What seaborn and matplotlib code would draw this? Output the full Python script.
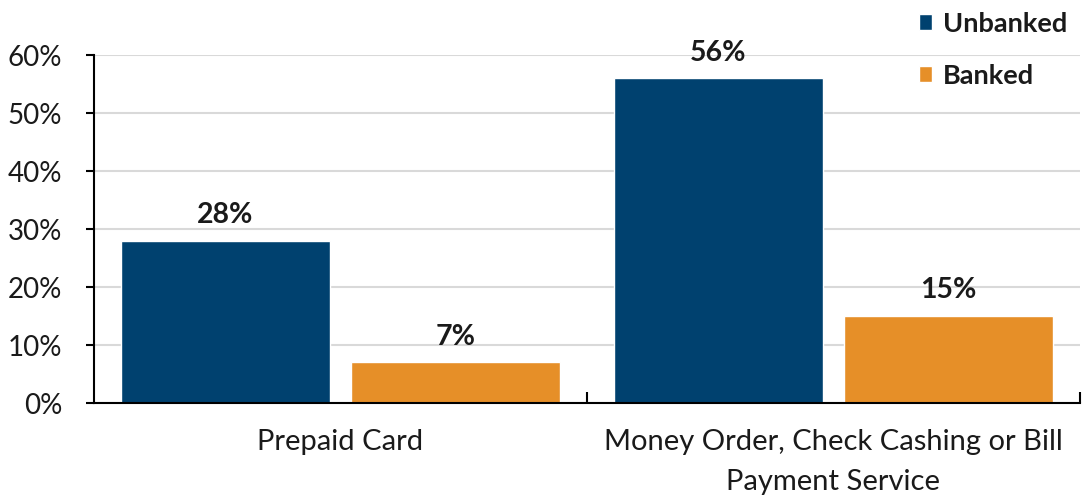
import matplotlib
matplotlib.use("Agg")
import matplotlib.pyplot as plt
import seaborn as sns
import pandas as pd
from matplotlib.ticker import PercentFormatter

# Share of households using each nonbank product
categories = ["Prepaid Card", "Money Order, Check Cashing or Bill\nPayment Service"]
groups = ["Unbanked", "Banked"]
unbanked = [28, 56]
banked = [7, 15]
y_ticks = [0, 10, 20, 30, 40, 50, 60]

colors = {"Unbanked": "#00416F", "Banked": "#E68F28"}

df = pd.DataFrame({
    "category": categories * 2,
    "group": ["Unbanked"] * len(categories) + ["Banked"] * len(categories),
    "value": unbanked + banked,
})

sns.set_theme(style="white")
plt.rcParams["font.family"] = ["Lato", "DejaVu Sans"]

fig = plt.figure(figsize=(10.86, 4.97), dpi=100)
ax = fig.add_axes([94 / 1086, 1 - 403 / 497, (1080 - 94) / 1086, (403 - 55) / 497])

sns.barplot(data=df, x="category", y="value", hue="group", hue_order=groups,
            order=categories, palette=colors, width=0.933, gap=0.087,
            saturation=1, ax=ax, legend=True)

for container in ax.containers:
    ax.bar_label(container, labels=[f"{v:.0f}%" for v in container.datavalues],
                 padding=9, fontsize=20.5, fontweight="bold", color="#1a1a1a")

ax.set_ylim(0, 60)
ax.set_xlim(-0.5, 1.5)
ax.set_yticks(y_ticks)
ax.yaxis.set_major_formatter(PercentFormatter(decimals=0))
ax.yaxis.grid(True, color="#d9d9d9", linewidth=1.5)
ax.set_axisbelow(True)
ax.set_xlabel("")
ax.set_ylabel("")

for side in ["top", "right"]:
    ax.spines[side].set_visible(False)
for side in ["left", "bottom"]:
    ax.spines[side].set_color("black")
    ax.spines[side].set_linewidth(1.5)

ax.tick_params(axis="y", which="major", left=True, length=6, width=1.5,
               color="black", labelsize=20, labelcolor="#1a1a1a", pad=17)
ax.tick_params(axis="x", which="major", bottom=False, labelsize=21,
               labelcolor="#1a1a1a", pad=13)
for lab in ax.get_xticklabels():
    lab.set_linespacing(1.65)

# category dividers as upward ticks on the baseline
ax.set_xticks([0.5, 1.5], minor=True)
ax.tick_params(axis="x", which="minor", bottom=True, direction="in",
               length=8, width=1.5, color="black")

leg = ax.legend(loc="upper left", bbox_to_anchor=(905 / 1086, 1 + 2 / 497),
                bbox_transform=fig.transFigure, frameon=False,
                handlelength=0.5, handleheight=0.5, handletextpad=0.4,
                labelspacing=1.04, borderpad=0,
                prop={"size": 19.5, "weight": "bold"})
for t in leg.get_texts():
    t.set_color("#1a1a1a")

fig.savefig("out.png", dpi=100, facecolor="white")
